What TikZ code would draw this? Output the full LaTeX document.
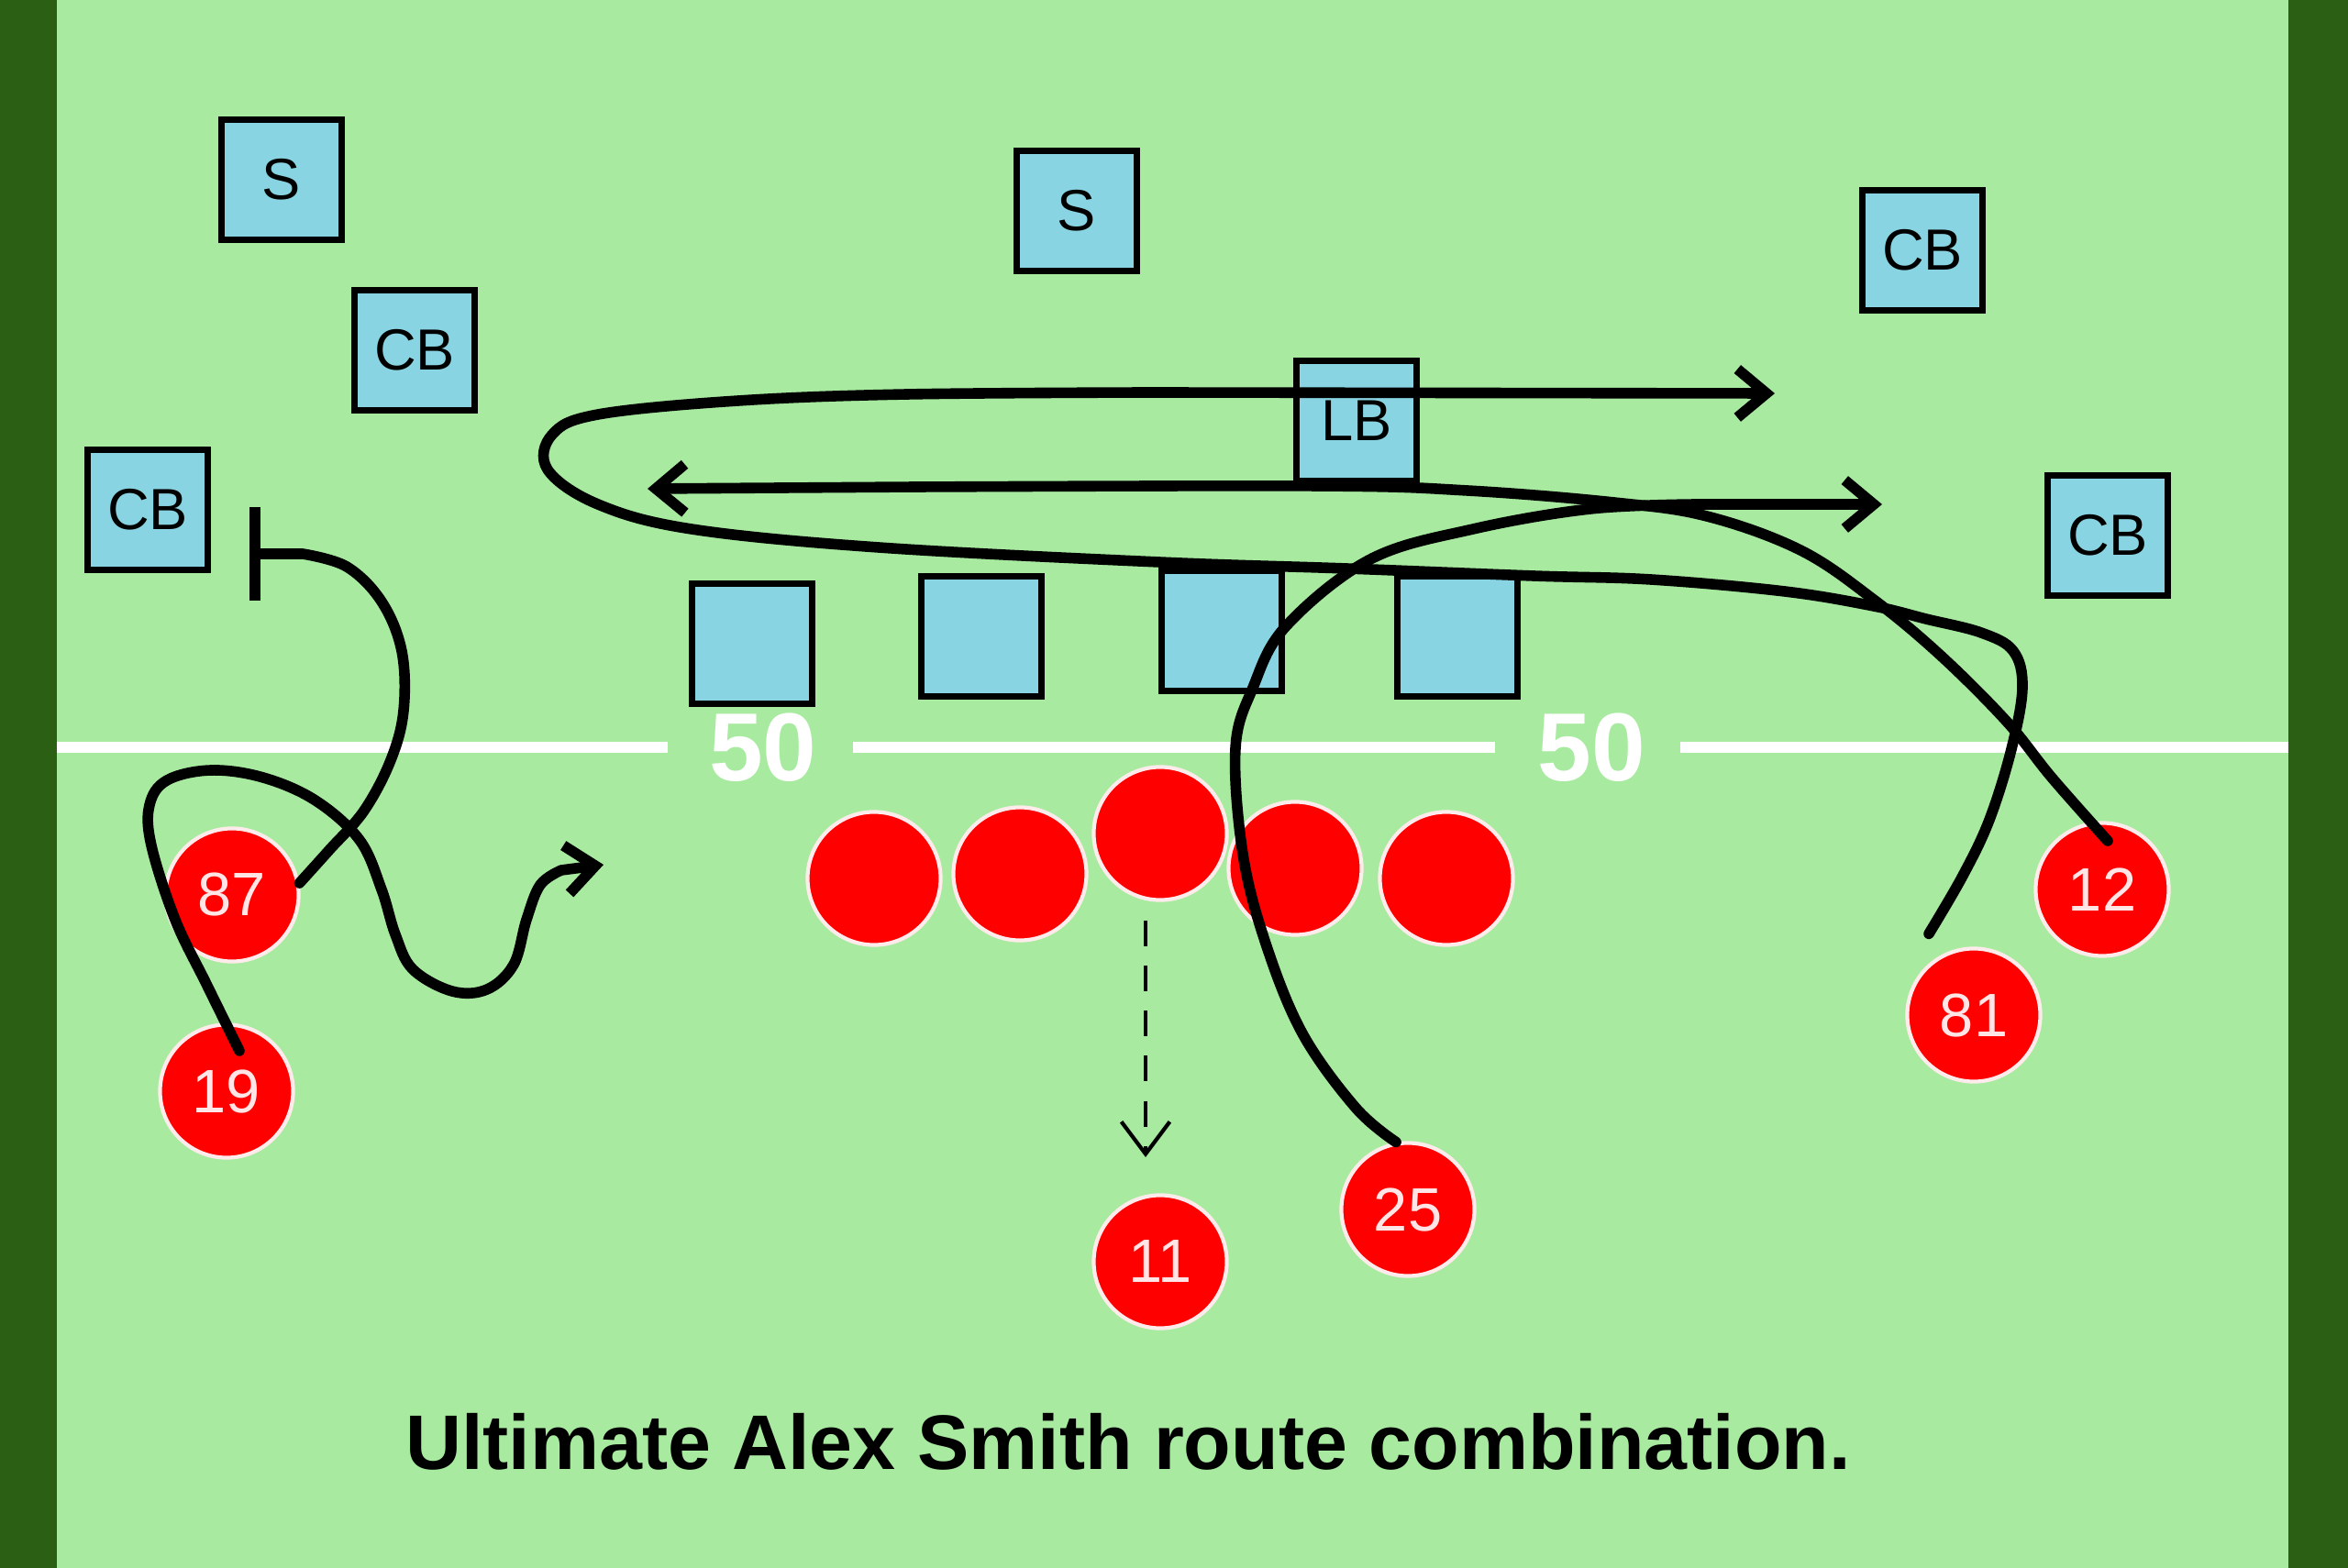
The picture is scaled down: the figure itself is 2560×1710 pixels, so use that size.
\documentclass[tikz,border=0pt]{standalone}
\usepackage{fontspec}
\setmainfont{Liberation Sans}
\usepackage{xcolor}
\usetikzlibrary{positioning, calc, arrows.meta}
\definecolor{field}{HTML}{A8EBA0}
\definecolor{sideline}{HTML}{2B5F13}
\definecolor{defblue}{HTML}{88D4E2}
\definecolor{offred}{HTML}{FF0000}

\begin{document}
\begin{tikzpicture}[x=0.01cm, y=-0.01cm,
        defender/.style={draw=black, line width=1.8pt, fill=defblue, minimum size=1.31cm,
            inner sep=0pt, font=\fontsize{18}{18}\selectfont},
        player/.style={circle, draw=white!92!red, line width=1.2pt, fill=offred, minimum size=1.45cm,
            inner sep=0pt, text=white!90!red, font=\fontsize{19}{19}\selectfont},
        route/.style={line width=3.3pt, line cap=round, line join=round},
        routearrow/.style={route, -{Straight Barb[length=9pt, width=15pt]}},
        blockroute/.style={route, -{Bar[width=29pt]}},
        dropline/.style={line width=1.2pt, dash pattern=on 8pt off 6pt,
            -{Straight Barb[length=10pt, width=15pt]}},
        yardline/.style={white, line width=3.4pt},
        yardnum/.style={anchor=base, text=white, font=\fontsize{30}{30}\selectfont\bfseries}]
        \useasboundingbox (0,0) rectangle (2560,1710);
        % field
        \fill[sideline] (0,0) rectangle (2560,1710);
        \fill[field] (62,0) rectangle (2495,1710);
        \draw[yardline] (62,815) -- (728,815);
        \draw[yardline] (930,815) -- (1630,815);
        \draw[yardline] (1832,815) -- (2495,815);
        \node[yardnum] (yd1) at (832,852) {50};
        \node[yardnum] (yd2) at (1735,852) {50};
        % defense
        \node[defender] (s1)  at (307,196)  {S};
        \node[defender] (s2)  at (1174,230) {S};
        \node[defender] (cb1) at (161,556)  {CB};
        \node[defender] (cb2) at (452,382)  {CB};
        \node[defender] (cb3) at (2096,273) {CB};
        \node[defender] (cb4) at (2298,584) {CB};
        \node[defender] (lb)  at (1479,459) {LB};
        \node[defender] (dl1) at (820,702)  {};
        \node[defender] (dl2) at (1070,694) {};
        \node[defender] (dl3) at (1332,688) {};
        \node[defender] (dl4) at (1589,694) {};
        % offense
        \node[player] (ol1) at (953,958)  {};
        \node[player] (ol2) at (1112,953) {};
        \node[player] (ol3) at (1265,909) {};
        \node[player] (ol4) at (1412,947) {};
        \node[player] (ol5) at (1577,958) {};
        \node[player] (p87) at (253,976)  {87};
        \node[player] (p19) at (247,1190) {19};
        \node[player] (p11) at (1265,1376) {11};
        \node[player] (p25) at (1535,1319) {25};
        \node[player] (p81) at (2152,1107) {81};
        \node[player] (p12) at (2292,970) {12};
        % route ends
        \coordinate (end87) at (272,604);
        \coordinate (end19) at (658,943);
        \coordinate (end11) at (1249,1262);
        \coordinate (end25) at (2052,550);
        \coordinate (end12) at (706,533);
        \coordinate (end81) at (1935,429);
        % routes
        \draw[blockroute] plot[smooth, tension=0.6] coordinates {(p87.10) (359,927) (397,884)
            (426,829) (440,775) (438,710) (416,656) (378,618) (330,604)} -- (end87);
        \draw[routearrow] plot[smooth, tension=0.6] coordinates {([shift={(14,-44)}]p19.center)
            (225,1073) (191,1003) (165,922) (163,878) (182,851) (230,840) (287,848) (344,873)
            (392,916) (416,970) (431,1019) (450,1057) (493,1081) (531,1079) (560,1052)
            (574,1003) (589,965) (612,949)} -- (end19);
        \draw[dropline] ($(ol3.south)+(-16,20)$) -- (end11);
        \draw[routearrow] plot[smooth, tension=0.6] coordinates {(p25.100) (1478,1208)
            (1420,1127) (1380,1029) (1355,931) (1347,816) (1366,750) (1402,683) (1494,610)
            (1606,577) (1734,555) (1850,550)} -- (end25);
        \draw[routearrow] plot[smooth, tension=0.6] coordinates {([shift={(6,-53)}]p12.center)
            (2237,848) (2188,787) (2116,715) (2043,654) (1963,600) (1861,563) (1760,548)
            (1600,535) (1438,530) (1000,531)} -- (end12);
        \draw[routearrow] plot[smooth, tension=0.6] coordinates {([shift={(-49,-14)}]p81.north)
            (2140,955) (2169,894) (2193,817) (2205,750) (2195,710) (2160,690) (2100,675)
            (2043,661) (1946,645) (1800,632) (1672,628) (1468,620) (1264,613) (958,597)
            (754,577) (652,550) (597,512) (602,474) (652,452) (805,437) (989,430)
            (1254,428)} -- (end81);
        % caption
        \node[anchor=base, font=\fontsize{24}{24}\selectfont\bfseries] (title) at (1230,1602)
            {Ultimate Alex Smith route combination.};
\end{tikzpicture}
\end{document}
